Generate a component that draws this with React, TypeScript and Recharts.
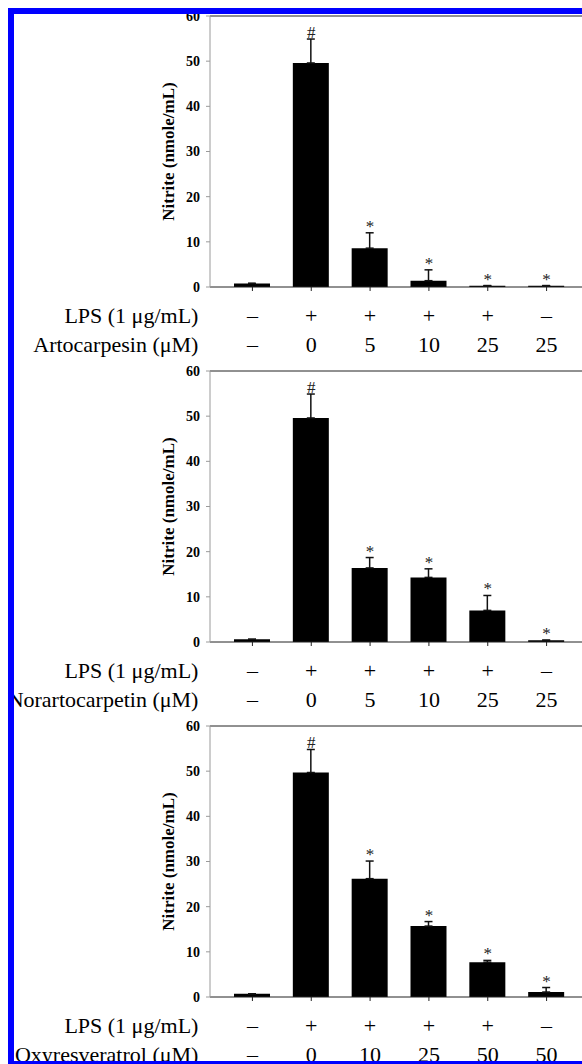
import React from 'react';
import { ComposedChart, Bar, Line, XAxis, YAxis, ErrorBar, LabelList, ReferenceLine } from 'recharts';

const SERIF = '"Liberation Serif", "DejaVu Serif", serif';

const categories = ['g1', 'g2', 'g3', 'g4', 'g5', 'g6'];
const marks = ['', '#', '*', '*', '*', '*'];
const lpsRow = ['–', '+', '+', '+', '+', '–'];
const yTicks = [0, 10, 20, 30, 40, 50, 60];
const lpsLabel = 'LPS (1 μg/mL)';

const artoLabel = 'Artocarpesin (μM)';
const artoConc = ['–', '0', '5', '10', '25', '25'];
const artoValues = [0.8, 49.6, 8.6, 1.4, 0.3, 0.3];
const artoErrors = [0, 5.3, 3.4, 2.4, 0, 0];

const norLabel = 'Norartocarpetin (μM)';
const norConc = ['–', '0', '5', '10', '25', '25'];
const norValues = [0.6, 49.6, 16.4, 14.3, 7.0, 0.4];
const norErrors = [0, 5.3, 2.3, 1.9, 3.3, 0];

const oxyLabel = 'Oxyresveratrol (μM)';
const oxyConc = ['–', '0', '10', '25', '50', '50'];
const oxyValues = [0.7, 49.7, 26.2, 15.7, 7.7, 1.1];
const oxyErrors = [0, 5.1, 3.9, 1.0, 0.4, 1.0];

type PanelProps = {
  top: number;
  values: number[];
  errors: number[];
  conc: string[];
  rowLabel: string;
};

function Panel({ top, values, errors, conc, rowLabel }: PanelProps) {
  const data = categories.map((c, i) => ({
    cat: c,
    value: values[i],
    err: [0, errors[i]],
    top: values[i] + errors[i],
    mark: marks[i],
    lps: lpsRow[i],
    conc: conc[i],
  }));

  const renderTick = (props: any) => {
    const { x, y } = props;
    const i = props.payload && props.payload.index != null ? props.payload.index : props.index;
    const d = data[i];
    if (!d) return null;
    const common = { fontFamily: SERIF, fontSize: 22, fill: '#000' };
    return (
      <g>
        <text x={x} y={y + 32} textAnchor="middle" {...common}>{d.lps}</text>
        <text x={x} y={y + 61} textAnchor="middle" {...common}>{d.conc}</text>
        {i === 0 && (
          <>
            <text x={x - 54} y={y + 32} textAnchor="end" {...common}>{lpsLabel}</text>
            <text x={x - 54} y={y + 61} textAnchor="end" {...common}>{rowLabel}</text>
          </>
        )}
      </g>
    );
  };

  const renderMark = (p: any) => {
    if (!p.value) return null;
    return (
      <text x={p.x} y={p.y - 1} textAnchor="middle" fontFamily={SERIF} fontSize={17} fill="#222">
        {p.value}
      </text>
    );
  };

  const renderYLabel = (p: any) => {
    const vb = p.viewBox || {};
    const cy = (vb.y || 0) + (vb.height || 0) / 2;
    return (
      <text
        transform={`translate(168, ${cy}) rotate(-90)`}
        textAnchor="middle"
        dominantBaseline="central"
        fontFamily={SERIF}
        fontWeight="bold"
        fontSize={17}
        fill="#000"
      >
        Nitrite (nmole/mL)
      </text>
    );
  };

  return (
    <div style={{ position: 'absolute', left: 0, top }}>
      <ComposedChart
        width={589}
        height={367}
        data={data}
        margin={{ top: 16, right: 0, left: 0, bottom: 0 }}
      >
        <ReferenceLine y={60} stroke="#222" strokeWidth={1} />
        <XAxis
          dataKey="cat"
          height={80}
          padding={{ left: 13, right: 13 }}
          axisLine={{ stroke: '#222', strokeWidth: 1 }}
          tickLine={{ stroke: '#222' }}
          tickSize={4}
          tickMargin={0}
          tick={renderTick}
          interval={0}
        />
        <YAxis
          type="number"
          domain={[0, 60]}
          ticks={yTicks}
          width={210}
          axisLine={{ stroke: '#9a9a9a', strokeWidth: 1 }}
          tickLine={{ stroke: '#9a9a9a' }}
          tickSize={4}
          tickMargin={6}
          tick={{ fontFamily: SERIF, fontSize: 14, fontWeight: 'bold', fill: '#000' }}
          label={{ content: renderYLabel }}
        />
        <Bar dataKey="value" fill="#000" barSize={36} isAnimationActive={false}>
          <ErrorBar dataKey="err" direction="y" width={4} stroke="#111" strokeWidth={1.5} />
        </Bar>
        <Line
          dataKey="top"
          stroke="none"
          dot={false}
          activeDot={false}
          isAnimationActive={false}
          legendType="none"
        >
          <LabelList dataKey="mark" content={renderMark} />
        </Line>
      </ComposedChart>
    </div>
  );
}

export default function App() {
  return (
    <div
      style={{
        position: 'fixed',
        left: 0,
        top: 0,
        width: 582,
        height: 1064,
        overflow: 'hidden',
        background: '#fff',
      }}
    >
      <Panel top={0} values={artoValues} errors={artoErrors} conc={artoConc} rowLabel={artoLabel} />
      <Panel top={355} values={norValues} errors={norErrors} conc={norConc} rowLabel={norLabel} />
      <Panel top={710} values={oxyValues} errors={oxyErrors} conc={oxyConc} rowLabel={oxyLabel} />
      <div
        style={{
          position: 'absolute',
          left: 8,
          top: 8,
          width: 620,
          height: 1059,
          boxSizing: 'border-box',
          borderTop: '6px solid #0000ff',
          borderLeft: '6px solid #0000ff',
          borderBottom: '6px solid #0000ff',
          pointerEvents: 'none',
        }}
      />
    </div>
  );
}
